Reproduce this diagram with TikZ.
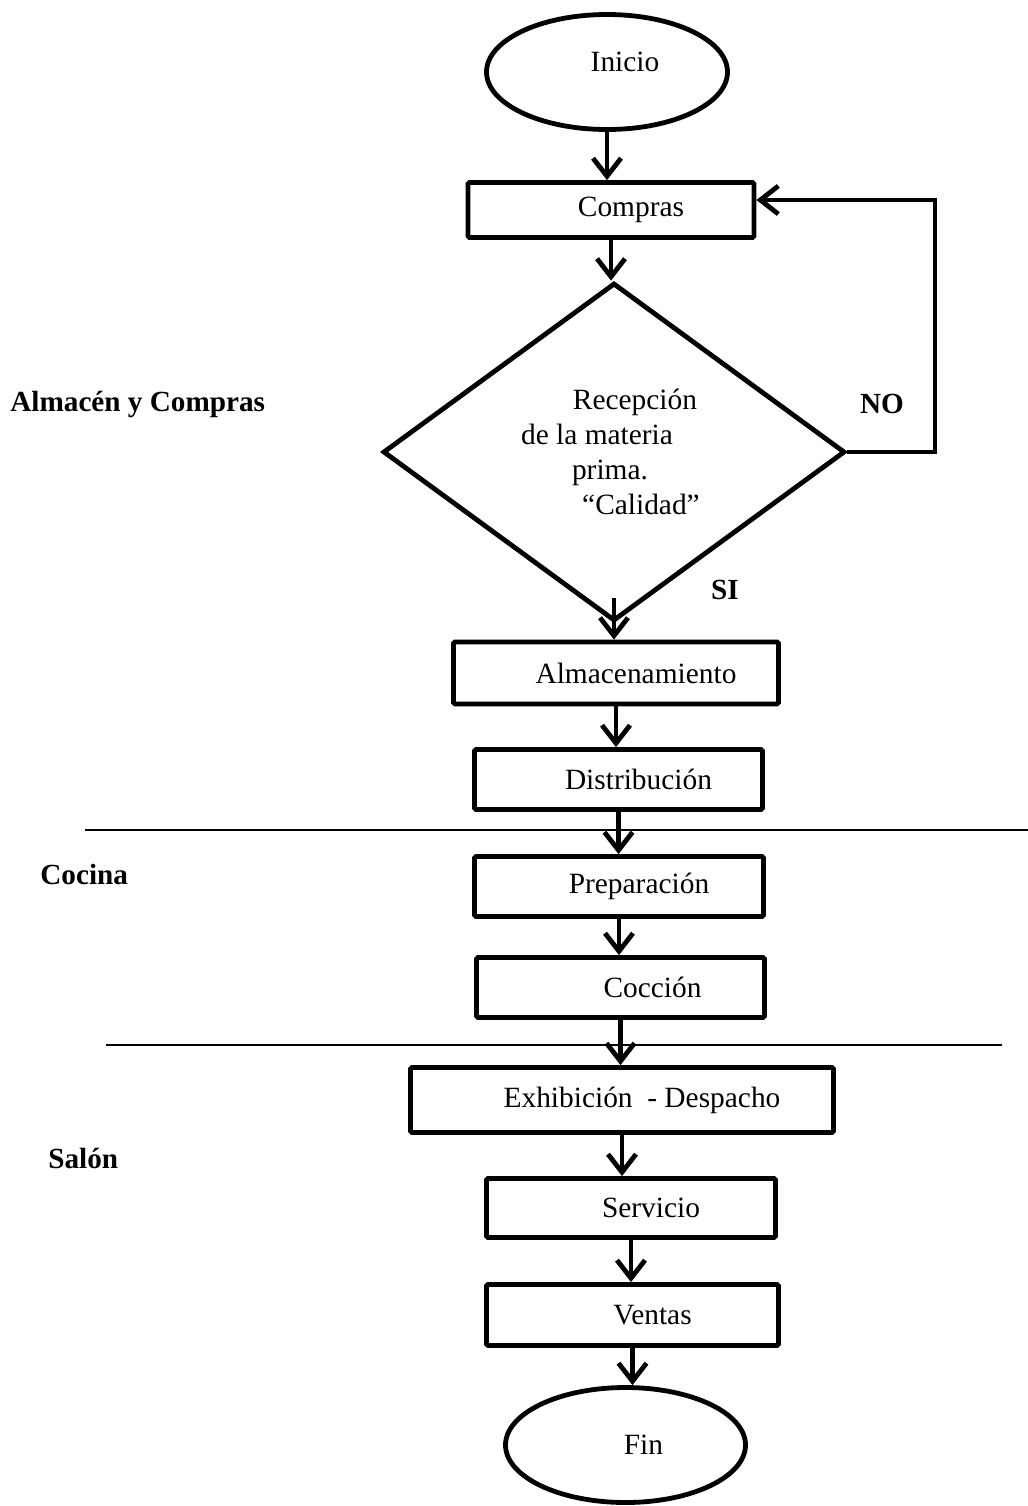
\documentclass[tikz,border=0pt]{standalone}
\usepackage{fontspec}
\setmainfont{Liberation Serif}
\usetikzlibrary{shapes.geometric, arrows.meta, positioning, calc}

\begin{document}
\begin{tikzpicture}[x=0.5pt, y=-0.5pt,
  txt/.style={font=\fontsize{14.7}{17.4}\selectfont},
  paso/.style={txt, draw, line width=2.4pt, rounded corners=0.8pt, inner sep=0pt, minimum height=30pt, execute at begin node=\hspace*{20pt}},
  termino/.style={txt, draw, ellipse, line width=2.4pt, minimum width=120.5pt, minimum height=57.5pt, inner sep=0pt, execute at begin node=\hspace*{18pt}},
  decision/.style={txt, draw, diamond, line width=2.4pt, minimum width=231pt, minimum height=169pt, inner sep=0pt, align=center},
  flecha/.style={line width=2.4pt, -{Straight Barb[length=9pt, width=14pt]}},
  area/.style={font=\bfseries\fontsize{14.6}{17}\selectfont, anchor=west, inner sep=0pt},
  division/.style={line width=0.7pt}]
\useasboundingbox (0,0) rectangle (1028,1506);

% nodos
\node[termino, text depth=10pt] (inicio) at (607,72) {Inicio};
\node[paso, minimum width=143pt, minimum height=27.5pt] (compras) at (611,210) {Compras};
\node[decision] (recep) at (614,452) {\hspace*{21pt}Recepción\\\hspace*{-17pt}de la materia\\\hspace*{-4pt}prima.\\\hspace*{27pt}“Calidad”};
\node[paso, minimum width=162.5pt, minimum height=31pt] (almac) at (616,673) {Almacenamiento};
\node[paso, minimum width=144pt] (distrib) at (618.5,779.5) {Distribución};
\node[paso, minimum width=144.5pt] (prep) at (619,886.5) {Preparación};
\node[paso, minimum width=144pt] (coccion) at (620.5,987.5) {\hspace*{12pt}Cocción};
\node[paso, minimum width=211.5pt, minimum height=32.5pt] (exhib) at (622,1100) {Exhibición\ \ - Despacho};
\node[paso, minimum width=144.5pt, minimum height=29.5pt] (serv) at (631,1208) {Servicio};
\node[paso, minimum width=146pt, minimum height=30.5pt] (ventas) at (632.5,1315) {Ventas};
\node[termino, minimum width=120pt] (fin) at (625.5,1445) {Fin};

% etiquetas
\node[area] (almlbl) at (10,404) {Almacén y Compras};
\node[area] (coclbl) at (40,874) {Cocina};
\node[area] (sallbl) at (48,1158) {Salón};
\node[area, anchor=center] (no) at (882,404) {NO};
\node[area, anchor=center] (si) at (725,590) {SI};

% flechas
\draw[flecha] (inicio.south) -- (inicio.south |- compras.north);
\draw[flecha] (compras.south) -- (compras.south |- recep.north);
\draw[flecha] ([yshift=12.5pt]recep.south) -- (recep.south |- almac.north);
\draw[flecha] (almac.south) -- (almac.south |- distrib.north);
\draw[flecha] (distrib.south) -- (distrib.south |- prep.north);
\draw[flecha] (prep.south) -- (prep.south |- coccion.north);
\draw[flecha] (coccion.south) -- (coccion.south |- exhib.north);
\draw[flecha] (exhib.south) -- (exhib.south |- serv.north);
\draw[flecha] (serv.south) -- (serv.south |- ventas.north);
\draw[flecha] (ventas.south) -- (ventas.south |- fin.north);

% retorno NO
\coordinate (retorno) at (935,200);
\draw[flecha] (recep.east) -| (retorno) -- (retorno -| compras.east);

% divisiones
\draw[division] (85,830) -- (1028,830);
\draw[division] (106,1045) -- (1002,1045);
\end{tikzpicture}
\end{document}
